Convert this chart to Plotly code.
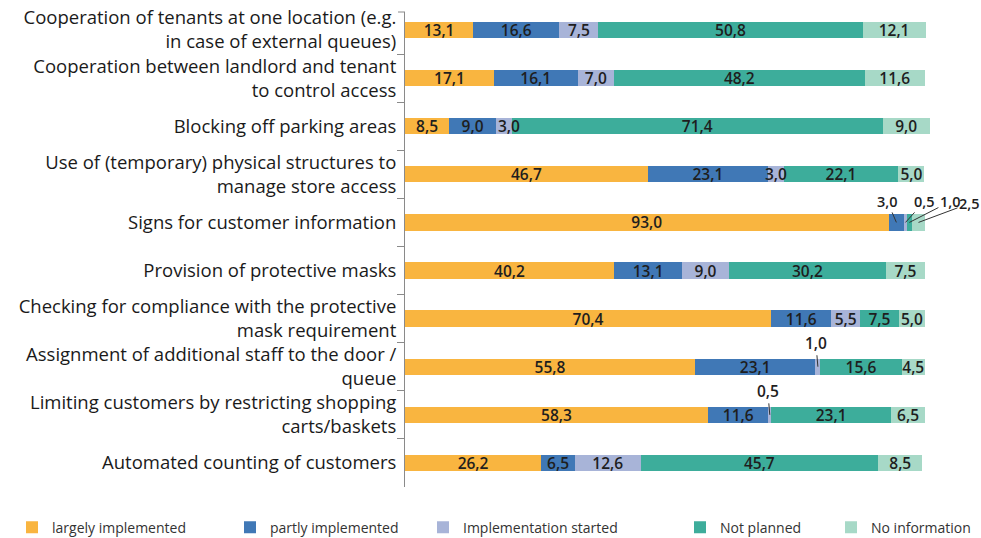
import plotly.graph_objects as go

categories = [
    "Cooperation of tenants at one location (e.g.<br>in case of external queues)",
    "Cooperation between landlord and tenant<br>to control access",
    "Blocking off parking areas",
    "Use of (temporary) physical structures to<br>manage store access",
    "Signs for customer information",
    "Provision of protective masks",
    "Checking for compliance with the protective<br>mask requirement",
    "Assignment of additional staff to the door /<br>queue",
    "Limiting customers by restricting shopping<br>carts/baskets",
    "Automated counting of customers",
]

series_names = ["largely implemented", "partly implemented", "Implementation started",
                "Not planned", "No information"]

largely = [13.1, 17.1, 8.5, 46.7, 93.0, 40.2, 70.4, 55.8, 58.3, 26.2]
partly = [16.6, 16.1, 9.0, 23.1, 3.0, 13.1, 11.6, 23.1, 11.6, 6.5]
started = [7.5, 7.0, 3.0, 3.0, 0.5, 9.0, 5.5, 1.0, 0.5, 12.6]
not_planned = [50.8, 48.2, 71.4, 22.1, 1.0, 30.2, 7.5, 15.6, 23.1, 45.7]
no_info = [12.1, 11.6, 9.0, 5.0, 2.5, 7.5, 5.0, 4.5, 6.5, 8.5]

colors = ["#F9B540", "#4078B6", "#A8B4D8", "#3DAD9B", "#A7D9C7"]

# labels drawn outside the bar with a leader line (category, series, x offset px, y offset px)
outside_labels = [
    (4, 1, -9, -21),
    (4, 2, 19, -21),
    (4, 3, 41, -21),
    (4, 4, 51, -19),
    (7, 2, -2, -24),
    (8, 2, -2, -24),
]
# labels wider than their segment, drawn on top of the whole stack (category, series, anchor)
overflow_labels = [(2, 2, "left"), (3, 2, "center")]

all_series = [largely, partly, started, not_planned, no_info]
skip_set = {(c, s) for c, s, _, _ in outside_labels} | {(c, s) for c, s, _ in overflow_labels}

def fmt(v):
    return f"{v:.1f}".replace(".", ",")

def seg_start(c, s):
    return sum(all_series[k][c] for k in range(s))

def seg_center(c, s):
    return seg_start(c, s) + all_series[s][c] / 2

LABEL_FONT = dict(family="Open Sans", size=15.5, color="#1e1e1e", weight=600)
SMALL_LABEL_FONT = dict(family="Open Sans", size=14.5, color="#1e1e1e", weight=600)

fig = go.Figure()
legend_x_px = [12, 230, 423, 680, 831]
for s, (name, vals, col) in enumerate(zip(series_names, all_series, colors)):
    texts = ["" if (c, s) in skip_set else fmt(v) for c, v in enumerate(vals)]
    fig.add_trace(go.Bar(
        y=categories, x=vals, name=name, orientation="h",
        marker=dict(color=col, line=dict(width=0)),
        text=texts, textposition="inside", insidetextanchor="middle",
        textangle=0, constraintext="none",
        textfont=LABEL_FONT,
        width=0.34, legend="legend" if s == 0 else f"legend{s+1}",
        hoverinfo="skip",
    ))

L, R, T, B = 405, 4, 12, 51
plot_w = 981 - L - R
plot_h = 538 - T - B
x_range = [0, 110]
y_range = [9.5, -0.374]

annotations = []
for c, s, ax, ay in outside_labels:
    annotations.append(dict(
        x=seg_center(c, s), y=c, xref="x", yref="y",
        text=fmt(all_series[s][c]), showarrow=True, arrowhead=0, arrowwidth=1,
        arrowcolor="#333333", ax=ax, ay=ay, standoff=0,
        font=SMALL_LABEL_FONT if c == 4 else LABEL_FONT,
    ))
for c, s, anchor in overflow_labels:
    annotations.append(dict(
        x=seg_start(c, s) if anchor == "left" else seg_center(c, s), y=c,
        xref="x", yref="y", xanchor=anchor,
        text=fmt(all_series[s][c]), showarrow=False, font=LABEL_FONT,
    ))

layout_legends = {}
for i, px in enumerate(legend_x_px):
    key = "legend" if i == 0 else f"legend{i+1}"
    layout_legends[key] = dict(
        x=(px - L) / plot_w, xanchor="left", y=-0.052, yanchor="top",
        orientation="h", bgcolor="rgba(0,0,0,0)",
        font=dict(family="Open Sans", size=14, color="#333333"),
        itemwidth=30, tracegroupgap=0,
    )

fig.update_layout(
    width=981, height=538,
    margin=dict(l=L, r=R, t=T, b=B, autoexpand=False),
    paper_bgcolor="white", plot_bgcolor="white",
    barmode="stack", bargap=0.66,
    showlegend=True,
    uniformtext=dict(minsize=15.5, mode="show"),
    xaxis=dict(range=x_range, visible=False, fixedrange=True),
    yaxis=dict(
        type="category", range=y_range, tickson="boundaries", ticks="outside", ticklen=7,
        tickcolor="#8a8a8a", showline=True, linecolor="#8a8a8a", linewidth=1,
        showgrid=False, tickfont=dict(family="Open Sans", size=18.5, color="#1a1a1a"),
        ticklabelstandoff=4, automargin=False,
    ),
    shapes=[dict(type="line", xref="paper", yref="paper",
                 x0=-7 / plot_w, x1=0, y0=1, y1=1,
                 line=dict(color="#8a8a8a", width=1))],
    annotations=annotations,
    **layout_legends,
)

fig.write_html("out.html")
